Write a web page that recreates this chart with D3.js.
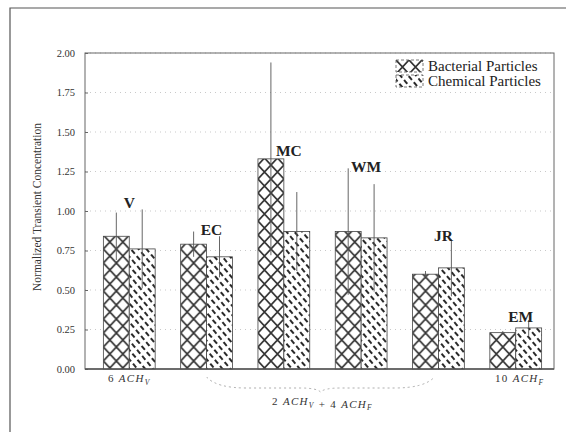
<!DOCTYPE html>
<html>
<head>
<meta charset="utf-8">
<script src="https://cdn.jsdelivr.net/npm/d3@7"></script>
<style>
  body { margin: 0; background: #fff; }
  svg { display: block; font-family: "Liberation Serif", "DejaVu Serif", serif; }
</style>
</head>
<body>
<div id="chart"></div>
<script>
const W = 566, H = 432;
const MARGIN = {top: 53, right: 12, bottom: 63, left: 85};
const PW = W - MARGIN.left - MARGIN.right, PH = H - MARGIN.top - MARGIN.bottom;

// data
const groups = ["V", "EC", "MC", "WM", "JR", "EM"];
const series = ["Bacterial Particles", "Chemical Particles"];
const bacterial = [0.84, 0.79, 1.33, 0.87, 0.60, 0.23];
const bacterialErr = [0.15, 0.08, 0.61, 0.40, 0.02, 0.01];
const chemical = [0.76, 0.71, 0.87, 0.83, 0.64, 0.26];
const chemicalErr = [0.25, 0.13, 0.25, 0.34, 0.18, 0.05];
const labelAt = [1.05, 0.88, 1.38, 1.28, 0.84, 0.33]; // height of the bold group names
const yTicks = [0, 0.25, 0.5, 0.75, 1.0, 1.25, 1.5, 1.75, 2.0];

const svg = d3.select("#chart").append("svg").attr("width", W).attr("height", H);

// hatch patterns
const defs = svg.append("defs");
const px = defs.append("pattern").attr("id", "pat-x")
  .attr("patternUnits", "userSpaceOnUse").attr("width", 13).attr("height", 14);
px.append("rect").attr("width", 13).attr("height", 14).attr("fill", "#fff");
px.append("path").attr("d", "M0,0L13,14M13,0L0,14")
  .attr("stroke", "#333").attr("stroke-width", 1.7);

const pc = defs.append("pattern").attr("id", "pat-c")
  .attr("patternUnits", "userSpaceOnUse").attr("width", 6).attr("height", 8)
  .attr("patternTransform", "rotate(-40)");
pc.append("rect").attr("width", 6).attr("height", 8).attr("fill", "#fff");
pc.append("line").attr("x1", 3).attr("x2", 3).attr("y1", 1).attr("y2", 6)
  .attr("stroke", "#2a2a2a").attr("stroke-width", 2);

// outer frame of the figure
svg.append("path").attr("d", `M10,${H}V8H${W}`)
  .attr("fill", "none").attr("stroke", "#555").attr("stroke-width", 1.2);

const g = svg.append("g").attr("transform", `translate(${MARGIN.left},${MARGIN.top})`);

const x0 = d3.scaleBand().domain(groups).range([6, PW]).paddingInner(0.33).paddingOuter(0.16);
const x1 = d3.scaleBand().domain(series).range([0, x0.bandwidth()]);
const y = d3.scaleLinear().domain([0, 2]).range([PH, 0]);

// dotted grid
g.append("g").selectAll("line").data(yTicks.slice(1)).join("line")
  .attr("x1", 0).attr("x2", PW)
  .attr("y1", d => y(d)).attr("y2", d => y(d))
  .attr("stroke", "#bbb").attr("stroke-width", 0.8).attr("stroke-dasharray", "1,4");

// frame
g.append("rect").attr("width", PW).attr("height", PH)
  .attr("fill", "none").attr("stroke", "#666").attr("stroke-width", 1);

const yAxis = g.append("g").call(d3.axisLeft(y).tickValues(yTicks).tickFormat(d3.format(".2f")).tickSize(-3));
yAxis.select(".domain").remove();
yAxis.selectAll("line").attr("stroke", "#666");
yAxis.selectAll("text").attr("font-size", 10.5).attr("fill", "#333")
  .attr("font-family", "Liberation Serif").attr("x", -10);

g.append("text")
  .attr("transform", `translate(-44,${PH / 2 - 4}) rotate(-90)`)
  .attr("text-anchor", "middle").attr("font-size", 11.5).attr("fill", "#333")
  .text("Normalized Transient Concentration");

const rows = groups.map((k, i) => ({
  key: k, i,
  vals: [
    {s: series[0], v: bacterial[i], e: bacterialErr[i], fill: "url(#pat-x)"},
    {s: series[1], v: chemical[i], e: chemicalErr[i], fill: "url(#pat-c)"}
  ]
}));

const grp = g.selectAll(".grp").data(rows).join("g").attr("class", "grp")
  .attr("transform", d => `translate(${x0(d.key)},0)`);

grp.selectAll("rect").data(d => d.vals).join("rect")
  .attr("x", d => x1(d.s)).attr("width", x1.bandwidth())
  .attr("y", d => y(d.v)).attr("height", d => PH - y(d.v))
  .attr("fill", d => d.fill).attr("stroke", "#444").attr("stroke-width", 0.8);

grp.selectAll(".err").data(d => d.vals).join("line").attr("class", "err")
  .attr("x1", d => x1(d.s) + x1.bandwidth() / 2).attr("x2", d => x1(d.s) + x1.bandwidth() / 2)
  .attr("y1", d => y(d.v - d.e)).attr("y2", d => y(d.v + d.e))
  .attr("stroke", "#555").attr("stroke-width", 0.9);

grp.append("text")
  .attr("x", d => x0.bandwidth() / 2 + (d.i === 0 ? 0 : 5))
  .attr("y", d => y(labelAt[d.i]) + 5)
  .attr("text-anchor", "middle").attr("font-weight", "bold").attr("font-size", 15.5)
  .attr("fill", "#222").text(d => d.key);

// x axis baseline
g.append("line").attr("x1", 0).attr("x2", PW).attr("y1", PH).attr("y2", PH)
  .attr("stroke", "#555").attr("stroke-width", 1.6);

// ventilation regimes under the axis
function regime(sel, parts) {
  parts.forEach(p => {
    sel.append("tspan").attr("font-style", p.it ? "italic" : "normal").text(p.t);
    if (p.sub) {
      sel.append("tspan").attr("font-style", "italic").attr("font-size", 7.5).attr("dy", 2.5).text(p.sub);
      sel.append("tspan").attr("dy", -2.5).text("");
    }
  });
}
const cx = k => x0(k) + x0.bandwidth() / 2;
const lab = g.append("g").attr("font-size", 11).attr("fill", "#333")
  .attr("text-anchor", "middle").attr("letter-spacing", 1.3);
regime(lab.append("text").attr("x", cx("V")).attr("y", PH + 13),
  [{t: "6 "}, {t: "ACH", it: true, sub: "V"}]);
regime(lab.append("text").attr("x", cx("EM") + 4).attr("y", PH + 13),
  [{t: "10 "}, {t: "ACH", it: true, sub: "F"}]);
regime(lab.append("text").attr("x", (cx("EC") + cx("JR")) / 2).attr("y", PH + 36),
  [{t: "2 "}, {t: "ACH", it: true, sub: "V"}, {t: " + 4 "}, {t: "ACH", it: true, sub: "F"}]);

// curly brace over the middle four groups
const bx0 = cx("EC"), bx1 = cx("JR") - 4, bm = (bx0 + bx1) / 2, by = PH + 8;
g.append("path")
  .attr("d", `M${bx0},${by}Q${bx0 + 10},${by + 11} ${bx0 + 40},${by + 11}L${bm - 20},${by + 11}Q${bm - 4},${by + 11} ${bm},${by + 15}` +
             `Q${bm + 4},${by + 11} ${bm + 20},${by + 11}L${bx1 - 40},${by + 11}Q${bx1 - 10},${by + 11} ${bx1},${by}`)
  .attr("fill", "none").attr("stroke", "#999").attr("stroke-width", 0.8).attr("stroke-dasharray", "2,3");

// legend
const leg = g.append("g").attr("transform", `translate(${PW - 158},7)`);
series.forEach((s, i) => {
  const r = leg.append("g").attr("transform", `translate(0,${i * 15})`);
  r.append("rect").attr("width", 27).attr("height", 12)
    .attr("fill", i === 0 ? "url(#pat-x)" : "url(#pat-c)")
    .attr("stroke", "#555").attr("stroke-width", 0.8).attr("stroke-dasharray", "3,2");
  r.append("text").attr("x", 32).attr("y", 11).attr("font-size", 15).attr("fill", "#222").text(s);
});
</script>
</body>
</html>
